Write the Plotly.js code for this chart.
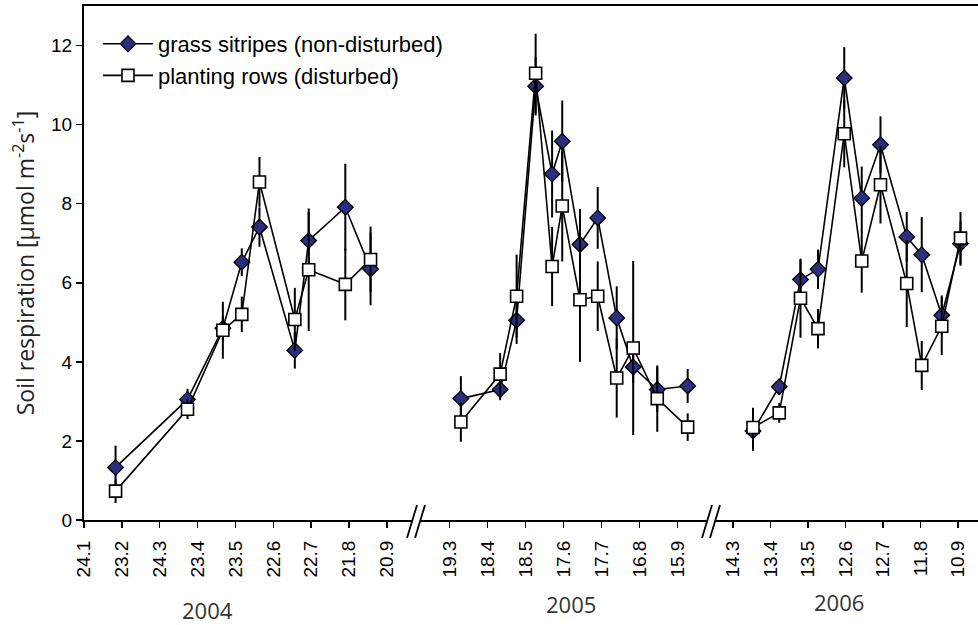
<!DOCTYPE html>
<html>
<head>
<meta charset="utf-8">
<script src="https://cdn.plot.ly/plotly-3.0.1.min.js"></script>
<style>
  html, body { margin: 0; padding: 0; background: #fff; }
  #chart { width: 978px; height: 625px; }
</style>
</head>
<body>
<div id="chart"></div>
<script>
// Soil respiration, three growing seasons (2004-2006), mean ± error per sampling date

// --- 2004 ---
const dates2004 = ['2004-02-18','2004-04-15','2004-05-13','2004-05-28','2004-06-11','2004-07-09','2004-07-20','2004-08-18','2004-09-07'];
const grass2004 = [1.33, 3.05, 4.85, 6.52, 7.41, 4.29, 7.07, 7.91, 6.35];
const grassErr2004 = [0.55, 0.27, 0.30, 0.35, 0.50, 0.46, 0.72, 1.10, 0.92];
const plant2004 = [0.73, 2.80, 4.80, 5.20, 8.55, 5.07, 6.33, 5.96, 6.59];
const plantErr2004 = [0.30, 0.25, 0.72, 0.45, 0.63, 0.80, 1.55, 0.91, 0.83];

// --- 2005 ---
const dates2005 = ['2005-03-28','2005-04-28','2005-05-11','2005-05-26','2005-06-08','2005-06-16','2005-06-30','2005-07-14','2005-07-29','2005-08-11','2005-08-30','2005-09-23'];
const grass2005 = [3.07, 3.30, 5.05, 10.97, 8.75, 9.58, 6.97, 7.64, 5.11, 3.87, 3.30, 3.39];
const grassErr2005 = [0.57, 0.27, 0.60, 0.74, 1.10, 1.03, 0.90, 0.78, 0.80, 0.40, 0.57, 0.43];
const plant2005 = [2.48, 3.69, 5.66, 11.30, 6.41, 7.94, 5.57, 5.66, 3.59, 4.35, 3.07, 2.35];
const plantErr2005 = [0.50, 0.53, 1.05, 1.00, 1.00, 1.40, 1.57, 0.88, 1.00, 2.20, 0.84, 0.35];

// --- 2006 ---
const dates2006 = ['2006-03-30','2006-04-20','2006-05-07','2006-05-21','2006-06-11','2006-06-25','2006-07-10','2006-07-31','2006-08-12','2006-08-28','2006-09-12'];
const grass2006 = [2.25, 3.37, 6.08, 6.34, 11.18, 8.14, 9.49, 7.16, 6.71, 5.18, 6.99];
const grassErr2006 = [0.50, 0.20, 0.50, 0.50, 0.78, 0.80, 0.72, 0.63, 0.95, 0.50, 0.56];
const plant2006 = [2.34, 2.71, 5.61, 4.84, 9.77, 6.55, 8.48, 5.98, 3.91, 4.90, 7.13];
const plantErr2006 = [0.50, 0.25, 1.00, 0.50, 0.85, 0.80, 0.98, 1.10, 0.62, 0.73, 0.66];

// --- axis ticks (day.month) ---
const tickDates2004 = ['2004-01-24','2004-02-23','2004-03-24','2004-04-23','2004-05-23','2004-06-22','2004-07-22','2004-08-21','2004-09-20'];
const tickText2004 = ['24.1','23.2','24.3','23.4','23.5','22.6','22.7','21.8','20.9'];
const tickDates2005 = ['2005-03-19','2005-04-18','2005-05-18','2005-06-17','2005-07-17','2005-08-16','2005-09-15'];
const tickText2005 = ['19.3','18.4','18.5','17.6','17.7','16.8','15.9'];
const tickDates2006 = ['2006-03-14','2006-04-13','2006-05-13','2006-06-12','2006-07-12','2006-08-11','2006-09-10'];
const tickText2006 = ['14.3','13.4','13.5','12.6','12.7','11.8','10.9'];

const seriesNames = ['grass sitripes (non-disturbed)', 'planting rows (disturbed)'];
const yearLabels = ['2004', '2005', '2006'];

const NAVY = '#2b2f7e';
const ARIAL = 'Liberation Sans, Arial, sans-serif';
const HUMANIST = 'Open Sans, sans-serif';

function errBars(arr) {
  return { type: 'data', array: arr, visible: true, color: '#000', thickness: 2, width: 0 };
}

function grassTrace(x, y, err, axis, show) {
  return {
    x: x, y: y, xaxis: axis, yaxis: 'y', type: 'scatter', mode: 'lines+markers',
    name: seriesNames[0], legendgroup: 'grass', legendrank: 1, showlegend: show,
    line: { color: '#000', width: 1.6 },
    marker: { symbol: 'diamond', size: 12, color: NAVY, line: { color: '#000', width: 1.3 } },
    error_y: errBars(err), cliponaxis: false
  };
}
function plantTrace(x, y, err, axis, show) {
  return {
    x: x, y: y, xaxis: axis, yaxis: 'y', type: 'scatter', mode: 'lines+markers',
    name: seriesNames[1], legendgroup: 'plant', legendrank: 2, showlegend: show,
    line: { color: '#000', width: 1.6 },
    marker: { symbol: 'square', size: 12, color: '#fff', line: { color: '#000', width: 1.6 } },
    error_y: errBars(err), cliponaxis: false
  };
}

const data = [
  grassTrace(dates2004, grass2004, grassErr2004, 'x', true),
  grassTrace(dates2005, grass2005, grassErr2005, 'x2', false),
  grassTrace(dates2006, grass2006, grassErr2006, 'x3', false),
  plantTrace(dates2004, plant2004, plantErr2004, 'x', true),
  plantTrace(dates2005, plant2005, plantErr2005, 'x2', false),
  plantTrace(dates2006, plant2006, plantErr2006, 'x3', false)
];

// plot area: 84..978 px horizontally, 6..520 px vertically
const L = 84, W = 894, B = 520, H = 514;
const px = v => (v - L) / W;
const py = v => (B - v) / H;
const cut1 = 416, cut2 = 711;

function xAxis(domain, range, tv, tt) {
  return {
    type: 'date', domain: domain, range: range, anchor: 'y',
    tickmode: 'array', tickvals: tv, ticktext: tt, tickangle: -90,
    ticks: 'outside', ticklen: 6, tickwidth: 1.5, tickcolor: '#000',
    tickfont: { family: ARIAL, size: 19, color: '#000' },
    ticklabelstandoff: 5,
    showline: true, linecolor: '#000', linewidth: 2, mirror: true,
    showgrid: false, zeroline: false, fixedrange: true
  };
}

// axis-break marks "//"
function breakShapes(cx) {
  const y0 = py(538), y1 = py(505);
  return [
    { type: 'path', xref: 'paper', yref: 'paper',
      path: `M${px(cx - 9)},${y0} L${px(cx - 1)},${y0} L${px(cx + 9)},${y1} L${px(cx + 1)},${y1} Z`,
      fillcolor: '#fff', line: { width: 0 } },
    { type: 'line', xref: 'paper', yref: 'paper', x0: px(cx - 9), y0: y0, x1: px(cx + 1), y1: y1,
      line: { color: '#000', width: 1.8 } },
    { type: 'line', xref: 'paper', yref: 'paper', x0: px(cx - 1), y0: y0, x1: px(cx + 9), y1: y1,
      line: { color: '#000', width: 1.8 } }
  ];
}

function yearLabel(text, cx, cy) {
  return { text: text, xref: 'paper', yref: 'paper', x: px(cx), y: 0, yshift: B - cy,
           xanchor: 'center', yanchor: 'middle', showarrow: false,
           font: { family: HUMANIST, size: 22, color: '#333' } };
}

const layout = {
  width: 978, height: 625,
  margin: { l: 84, r: 0, t: 6, b: 105, pad: 0 },
  paper_bgcolor: '#fff', plot_bgcolor: '#fff',
  showlegend: true,
  legend: {
    x: px(98), y: py(23), xanchor: 'left', yanchor: 'top',
    bgcolor: 'rgba(0,0,0,0)', borderwidth: 0,
    font: { family: ARIAL, size: 22, color: '#000' },
    tracegroupgap: 0, itemwidth: 50
  },
  xaxis: xAxis([0, px(cut1)], ['2004-01-24', '2004-10-13'], tickDates2004, tickText2004),
  xaxis2: xAxis([px(cut1), px(cut2)], ['2005-02-20 14:00', '2005-10-11 10:00'], tickDates2005, tickText2005),
  xaxis3: xAxis([px(cut2), 1], ['2006-02-24 10:00', '2006-09-26'], tickDates2006, tickText2006),
  yaxis: {
    range: [0, 13], tickmode: 'linear', tick0: 0, dtick: 2,
    ticks: 'outside', ticklen: 6, tickwidth: 1.5, tickcolor: '#000',
    tickfont: { family: ARIAL, size: 19, color: '#000' },
    showline: true, linecolor: '#000', linewidth: 2,
    showgrid: false, zeroline: false, fixedrange: true,
    title: { text: 'Soil respiration [µmol m<sup>-2</sup>s<sup>-1</sup>]',
             font: { family: HUMANIST, size: 23, color: '#222' }, standoff: 10 }
  },
  shapes: [].concat(breakShapes(cut1), breakShapes(cut2)),
  annotations: [
    yearLabel(yearLabels[0], 207, 610),
    yearLabel(yearLabels[1], 571, 604),
    yearLabel(yearLabels[2], 839, 602)
  ]
};

Plotly.newPlot('chart', data, layout, { staticPlot: true, displayModeBar: false });
</script>
</body>
</html>
